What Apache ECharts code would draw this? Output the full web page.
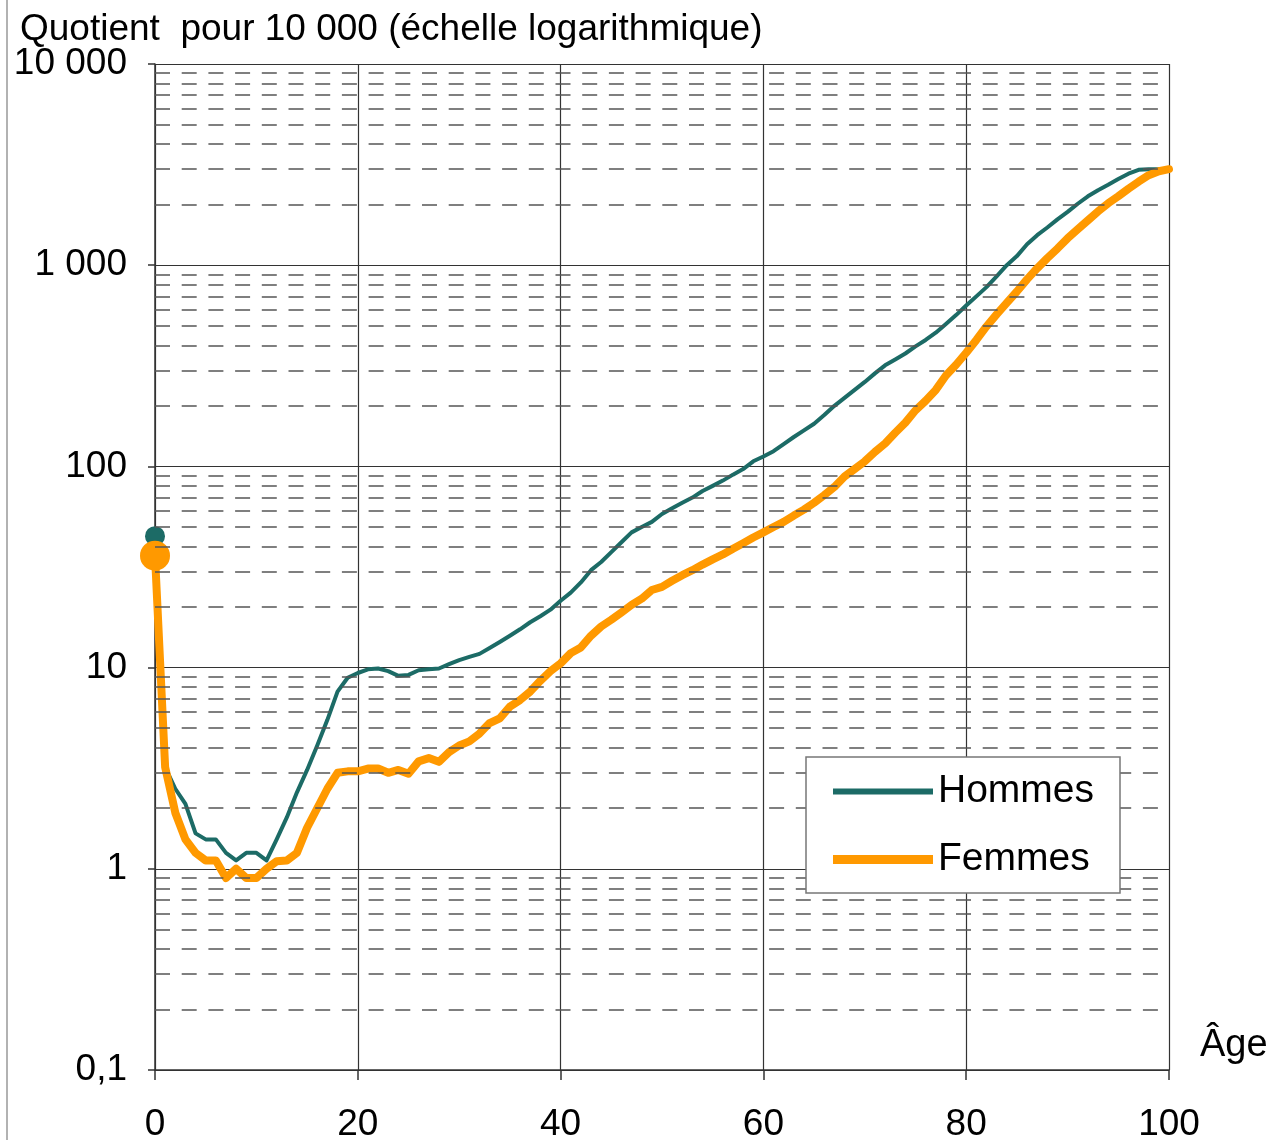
<!DOCTYPE html>
<html>
<head>
<meta charset="utf-8">
<script src="https://cdn.jsdelivr.net/npm/echarts@6/dist/echarts.min.js"></script>
<style>html,body{margin:0;padding:0;background:#fff}#c{width:1270px;height:1140px}</style>
</head>
<body>
<div id="c"></div>
<script>
var ages = [];
for (var a = 0; a <= 100; a++) ages.push(a);

var hommes = [45,3.2,2.5,2.1,1.5,1.4,1.4,1.2,1.1,1.2,
  1.2,1.1,1.4,1.8,2.4,3.1,4.1,5.5,7.6,8.9,
  9.4,9.8,9.9,9.6,9.1,9.2,9.7,9.8,9.9,10.4,
  10.9,11.3,11.7,12.5,13.4,14.4,15.5,16.8,18.0,19.4,
  21.5,23.6,26.5,30.5,33.5,37.5,42,47,50,53,
  58,62,66,70,75.5,80,85,91,97,106,
  112,119,129,140,151,163,180,200,219,240,
  263,290,318,340,364,395,425,462,510,565,
  630,700,778,880,1000,1110,1270,1410,1540,1690,
  1840,2020,2200,2360,2510,2680,2850,2980,3000,3000,3000];

var femmes = [36,3.2,1.9,1.4,1.2,1.1,1.1,0.9,1.0,0.9,
  0.9,1.0,1.09,1.1,1.2,1.6,2.0,2.5,3.0,3.05,
  3.05,3.15,3.15,3.0,3.1,2.97,3.42,3.55,3.4,3.8,
  4.1,4.3,4.7,5.3,5.6,6.4,6.9,7.6,8.6,9.6,
  10.5,11.8,12.6,14.4,16,17.3,18.8,20.5,22,24.3,
  25.2,27,28.8,30.5,32.5,34.5,36.5,39,41.5,44.3,
  47,50,53,57,61,66,72,79,89,97,
  106,118,130,147,165,190,212,240,283,320,
  367,425,496,570,650,740,850,965,1085,1210,
  1360,1510,1670,1850,2030,2200,2400,2600,2800,2930,3000];

var minorLevels = [0.2,0.3,0.4,0.5,0.6,0.7,0.8,0.9,
  2,3,4,5,6,7,8,9,
  20,30,40,50,60,70,80,90,
  200,300,400,500,600,700,800,900,
  2000,3000,4000,5000,6000,7000,8000,9000];

var titleText = 'Quotient  pour 10 000 (échelle logarithmique)';
var xName = 'Âge';
var seriesNames = ['Hommes', 'Femmes'];

function pairs(vals){ return ages.map(function(a,i){ return [a, vals[i]]; }); }
function fmtY(v){
  if (v < 1) return String(v).replace('.', ',');
  var s = String(Math.round(v));
  return s.replace(/\B(?=(\d{3})+(?!\d))/g, ' ');
}

var FONT = '"Liberation Sans", Arial, sans-serif';
var chart = echarts.init(document.getElementById('c'), null, {renderer:'canvas'});
chart.setOption({
  animation: false,
  backgroundColor: '#fff',
  textStyle: {fontFamily: FONT},
  title: {text: titleText, left: 20, top: 11, padding: 0,
    textStyle: {fontSize: 37, fontWeight: 'normal', color: '#000', fontFamily: FONT}},
  grid: {left: 155, right: 101, top: 64, bottom: 70, containLabel: false, outerBoundsMode: 'none'},
  xAxis: {type: 'value', min: 0, max: 100, interval: 20,
    axisLine: {show: true, lineStyle: {color: '#333', width: 1.5}},
    axisTick: {show: true, length: 10, lineStyle: {color: '#333', width: 1.5}},
    axisLabel: {fontSize: 37, color: '#000', margin: 36, fontFamily: FONT},
    splitLine: {show: true, lineStyle: {color: '#333', width: 1.2}}},
  yAxis: {type: 'log', logBase: 10, min: 0.1, max: 10000,
    axisLine: {show: true, lineStyle: {color: '#333', width: 1.5}},
    axisTick: {show: true, length: 7, lineStyle: {color: '#333', width: 1.5}},
    axisLabel: {fontSize: 37, color: '#000', margin: 28, formatter: fmtY, fontFamily: FONT},
    splitLine: {show: true, lineStyle: {color: '#333', width: 1.2}}},
  legend: [
    {data: [{name: seriesNames[0], icon: 'rect'}], left: 833, top: 772, padding: 0,
     itemWidth: 100, itemHeight: 6, z: 100,
     textStyle: {fontSize: 39, color: '#000', fontFamily: FONT}},
    {data: [{name: seriesNames[1], icon: 'rect'}], left: 833, top: 840, padding: 0,
     itemWidth: 100, itemHeight: 9, z: 100,
     textStyle: {fontSize: 39, color: '#000', fontFamily: FONT}}
  ],
  graphic: [
    {type: 'line', shape: {x1: 7, y1: 0, x2: 7, y2: 1140}, style: {stroke: '#999', lineWidth: 1.5}, z: 50},
    {type: 'rect', shape: {x: 806, y: 757, width: 314, height: 136},
     style: {fill: '#fff', stroke: '#777', lineWidth: 1.5}, z: 50},
    {type: 'text', left: 1200, top: 1027, z: 50,
     style: {text: xName, font: '38px ' + FONT, fill: '#000'}}
  ],
  series: [
    {name: '_minor', type: 'line', data: [[0, null]], z: 1, silent: true, symbol: 'none',
     markLine: {silent: true, symbol: 'none', label: {show: false},
       lineStyle: {type: [15, 11.7], color: '#555', width: 1.5},
       data: minorLevels.map(function(v){ return {yAxis: v}; })}},
    {name: seriesNames[0], type: 'line', data: pairs(hommes), z: 3,
     color: '#1c6b66',
     symbol: function(v, p){ return p.dataIndex === 0 ? 'circle' : 'none'; },
     symbolSize: 20, showSymbol: true,
     lineStyle: {width: 4, color: '#1c6b66', join: 'round'},
     itemStyle: {color: '#1c6b66'}},
    {name: seriesNames[1], type: 'line', data: pairs(femmes), z: 4,
     color: '#ff9900',
     symbol: function(v, p){ return p.dataIndex === 0 ? 'circle' : 'none'; },
     symbolSize: 30, showSymbol: true,
     lineStyle: {width: 8, color: '#ff9900', join: 'round', cap: 'round'},
     itemStyle: {color: '#ff9900'}}
  ]
});
</script>
</body>
</html>
